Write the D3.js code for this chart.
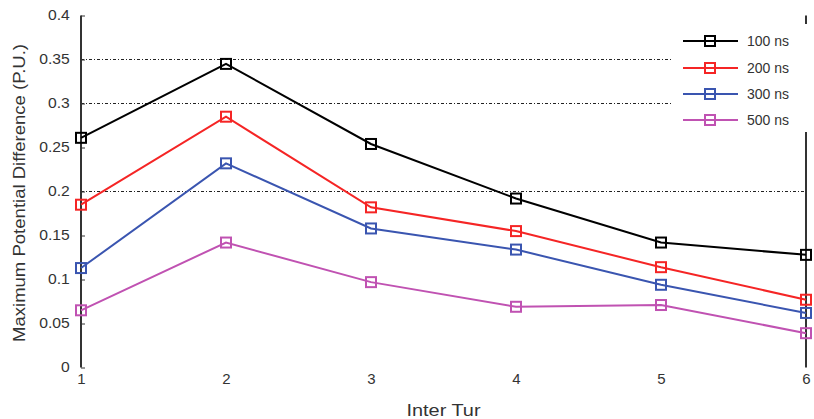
<!DOCTYPE html>
<html><head><meta charset="utf-8">
<script src="https://cdn.jsdelivr.net/npm/d3@7"></script>
<style>body{margin:0;background:#fff}svg{display:block}</style>
</head><body><svg id="c" width="814" height="419"></svg>
<script>
const categories = [1, 2, 3, 4, 5, 6];
const seriesNames = ["100 ns", "200 ns", "300 ns", "500 ns"];
const s100 = [0.261, 0.345, 0.254, 0.192, 0.142, 0.128];
const s200 = [0.185, 0.285, 0.182, 0.155, 0.114, 0.077];
const s300 = [0.113, 0.232, 0.158, 0.134, 0.094, 0.062];
const s500 = [0.065, 0.142, 0.097, 0.069, 0.071, 0.039];
const yTicks = [0, 0.05, 0.1, 0.15, 0.2, 0.25, 0.3, 0.35, 0.4];
const yTickLabels = ["0", "0.05", "0.1", "0.15", "0.2", "0.25", "0.3", "0.35", "0.4"];
const gridValues = [0.2, 0.3, 0.35];
const colors = ["#000000", "#f52525", "#3a55b0", "#c052b2"];
const seriesValues = [s100, s200, s300, s500];

const svg = d3.select("#c");
const font = "'Liberation Sans', Arial, sans-serif";
const x = d3.scaleLinear().domain([1, 6]).range([81, 806]);
const y = d3.scaleLinear().domain([0, 0.4]).range([367.5, 15.5]);

// grid
svg.append("g").selectAll("line").data(gridValues).join("line")
  .attr("x1", x(1)).attr("x2", x(6)).attr("y1", d => y(d)).attr("y2", d => y(d))
  .attr("stroke", "#222").attr("stroke-width", 1).attr("stroke-dasharray", "3,2,1,2");

// left axis
const yAxis = d3.axisLeft(y).tickValues(yTicks).tickFormat((d, i) => yTickLabels[i]).tickSize(-4).tickPadding(9);
const ga = svg.append("g").attr("transform", `translate(${x(1)},0)`).call(yAxis);
ga.select(".domain").remove();
ga.selectAll(".tick line").attr("stroke", "#333");
ga.selectAll("text").attr("font-family", font).attr("font-size", 14).attr("fill", "#333")
  .attr("transform", "scale(1.12,1)").attr("x", -10);
svg.append("line").attr("x1", x(1)).attr("x2", x(1)).attr("y1", y(0.4)).attr("y2", y(0))
  .attr("stroke", "#333").attr("stroke-width", 2);
svg.append("line").attr("x1", x(6)).attr("x2", x(6)).attr("y1", y(0.4)).attr("y2", y(0))
  .attr("stroke", "#333").attr("stroke-width", 2);

// bottom tick labels
const xAxis = d3.axisBottom(x).tickValues(categories).tickFormat(d3.format("d")).tickSize(0).tickPadding(6);
const gx = svg.append("g").attr("transform", `translate(0,${y(0)})`).call(xAxis);
gx.select(".domain").remove();
gx.selectAll("text").attr("font-family", font).attr("font-size", 15).attr("fill", "#333");

// axis titles
svg.append("text").attr("x", (x(1) + x(6)) / 2).attr("y", 416).attr("text-anchor", "middle")
  .attr("font-family", font).attr("font-size", 16).attr("fill", "#333")
  .attr("textLength", 74).attr("lengthAdjust", "spacingAndGlyphs").text("Inter Tur");
svg.append("text").attr("transform", `translate(25,${193}) rotate(-90)`).attr("text-anchor", "middle")
  .attr("font-family", font).attr("font-size", 16.5).attr("fill", "#333")
  .attr("textLength", 298).attr("lengthAdjust", "spacingAndGlyphs")
  .text("Maximum Potential Difference (P.U.)");

// series
const line = d3.line().x((d, i) => x(categories[i])).y(d => y(d));
seriesValues.forEach((vals, k) => {
  const g = svg.append("g");
  g.append("path").datum(vals).attr("d", line).attr("fill", "none")
    .attr("stroke", colors[k]).attr("stroke-width", 2);
  g.selectAll("rect").data(vals).join("rect")
    .attr("x", (d, i) => x(categories[i]) - 5).attr("y", d => y(d) - 5)
    .attr("width", 10).attr("height", 10).attr("fill", "none")
    .attr("stroke", colors[k]).attr("stroke-width", 2);
});

// legend
const lg = svg.append("g");
lg.append("rect").attr("x", 672).attr("y", 24).attr("width", 142).attr("height", 108).attr("fill", "#fff");
const legY = [41, 68, 94, 120];
seriesNames.forEach((n, k) => {
  lg.append("line").attr("x1", 683).attr("x2", 738).attr("y1", legY[k]).attr("y2", legY[k])
    .attr("stroke", colors[k]).attr("stroke-width", 2);
  lg.append("rect").attr("x", 705).attr("y", legY[k] - 5).attr("width", 10).attr("height", 10)
    .attr("fill", "none").attr("stroke", colors[k]).attr("stroke-width", 2);
  lg.append("text").attr("x", 747).attr("y", legY[k] + 5).attr("font-family", font)
    .attr("font-size", 14).attr("fill", "#333").text(n);
});
</script></body></html>
